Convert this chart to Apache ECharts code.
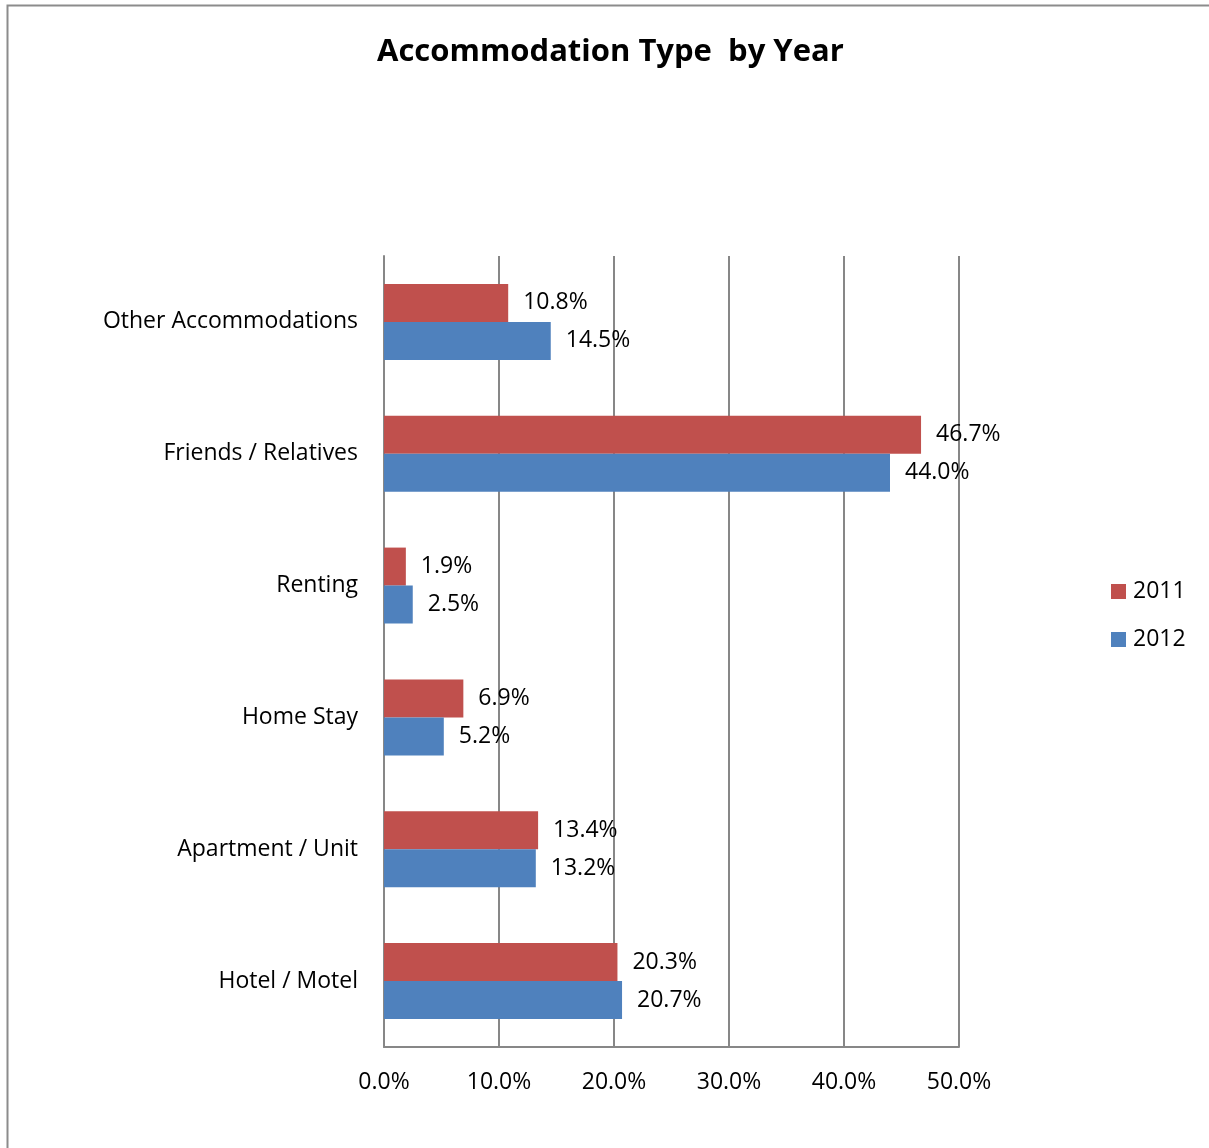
<!DOCTYPE html>
<html>
<head>
<meta charset="utf-8">
<script src="https://cdn.jsdelivr.net/npm/echarts@6/dist/echarts.min.js"></script>
<style>
  html, body { margin: 0; padding: 0; background: #fff; }
  #chart { width: 1209px; height: 1148px; }
</style>
</head>
<body>
<div id="chart"></div>
<script>
// Accommodation categories, listed bottom to top along the category axis
const categories = ['Hotel / Motel', 'Apartment / Unit', 'Home Stay', 'Renting', 'Friends / Relatives', 'Other Accommodations'];
// Share of respondents (%) per accommodation type
const values2011 = [20.3, 13.4, 6.9, 1.9, 46.7, 10.8];
const values2012 = [20.7, 13.2, 5.2, 2.5, 44.0, 14.5];
const seriesNames = ['2011', '2012'];

const FONT = '"Open Sans", Lato, sans-serif';
const pct = v => v.toFixed(1) + '%';

const chart = echarts.init(document.getElementById('chart'));

const labelStyle = {
  show: true,
  position: 'right',
  distance: 15,
  color: '#000',
  fontFamily: FONT,
  fontSize: 23,
  padding: [4, 0, 0, 0],
  formatter: p => pct(p.value)
};

chart.setOption({
  animation: false,
  backgroundColor: '#fff',
  graphic: [{
    type: 'rect',
    shape: { x: 7.5, y: 5.5, width: 1215, height: 1160 },
    style: { fill: 'none', stroke: '#8c8c8c', lineWidth: 2 },
    silent: true,
    z: -1
  }],
  title: {
    text: 'Accommodation Type  by Year',
    left: 372,
    top: 32,
    textStyle: { fontFamily: FONT, fontSize: 31, fontWeight: 'bold', color: '#000' }
  },
  legend: {
    orient: 'vertical',
    left: 1106,
    top: 575,
    itemWidth: 15,
    itemHeight: 15,
    itemGap: 25,
    icon: 'rect',
    data: seriesNames,
    textStyle: { fontFamily: FONT, fontSize: 23, color: '#000', padding: [0, 0, 0, 2] }
  },
  grid: { left: 384, right: 250, top: 256, bottom: 101, containLabel: false },
  xAxis: {
    type: 'value',
    min: 0,
    max: 50,
    interval: 10,
    axisLine: { show: true, lineStyle: { color: '#878787', width: 2 } },
    axisTick: { show: false },
    splitLine: { show: true, lineStyle: { color: '#878787', width: 2 } },
    axisLabel: {
      margin: 24,
      color: '#000',
      fontFamily: FONT,
      fontSize: 23,
      formatter: v => pct(v)
    }
  },
  yAxis: {
    type: 'category',
    data: categories,
    axisLine: { show: true, lineStyle: { color: '#878787', width: 2 } },
    axisTick: { show: false },
    axisLabel: { margin: 26, color: '#000', fontFamily: FONT, fontSize: 23, padding: [3, 0, 0, 0] }
  },
  series: [
    {
      name: seriesNames[0],
      type: 'bar',
      data: values2011,
      barWidth: 38,
      barGap: '0%',
      itemStyle: { color: '#C0504D' },
      label: labelStyle
    },
    {
      name: seriesNames[1],
      type: 'bar',
      data: values2012,
      barWidth: 38,
      barGap: '0%',
      itemStyle: { color: '#4F81BD' },
      label: labelStyle
    }
  ]
});
</script>
</body>
</html>
